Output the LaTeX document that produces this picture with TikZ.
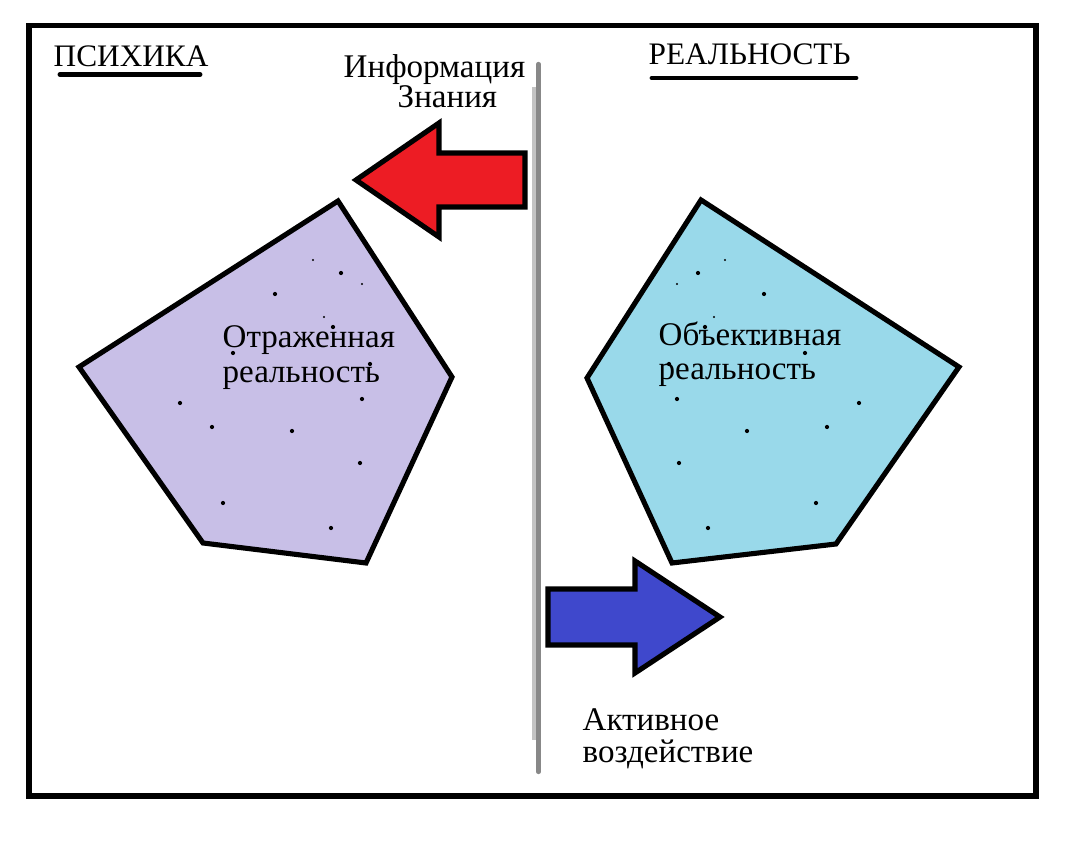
\documentclass[tikz,border=0pt]{standalone}
\usepackage{fontspec}
\setmainfont{Liberation Serif}
\usepackage{tikz}
\definecolor{reflcol}{HTML}{C8BFE7}
\definecolor{objcol}{HTML}{99D9EA}
\definecolor{infocol}{HTML}{ED1C24}
\definecolor{actcol}{HTML}{3F48CC}
\definecolor{sepdark}{HTML}{888888}
\definecolor{seplight}{HTML}{C3C3C3}

\begin{document}
\begin{tikzpicture}[x=0.01cm, y=-0.01cm, every node/.style={font=\fontsize{9.4}{11}\selectfont, inner sep=0pt, anchor=base west}, title/.style={font=\fontsize{8.9}{11}\selectfont}, outline/.style={draw=black, line width=1.45pt, line join=miter}, bar/.style={line width=1.4pt, line cap=round}]
	\useasboundingbox (0,0) rectangle (1075,843);
	\draw[line width=1.45pt] (29,25.5) rectangle (1036,796);
	% separator
	\draw[seplight, line width=1.1pt] (534,87) -- (534,740);
	\draw[sepdark, line width=1.2pt, line cap=round] (538.5,64) -- (538.5,772);
	% titles
	\node[title] (psyche) at (53,67) {ПСИХИКА};
	\draw[bar] (60,74.5) -- (200,74.5);
	\node[title] (reality) at (648,65) {РЕАЛЬНОСТЬ};
	\draw[bar] (652,78) -- (856,78);
	% pentagons
	\draw[outline, fill=reflcol] (338,201) -- (452,377) -- (366,563) -- (203,543) -- (79,367) -- cycle;
	\draw[outline, fill=objcol] (701,200) -- (959,367) -- (836,544) -- (672,563) -- (587,378) -- cycle;
	\foreach \x/\y in {341/273, 275/294, 333/327, 233/353, 370/364, 362/399, 180/403, 212/427, 292/431, 360/463, 223/503, 331/528} {\fill (\x,\y) circle (0.6pt);}
	\foreach \x/\y in {698/273, 764/294, 705/327, 758/343, 805/353, 669/364, 677/399, 859/403, 747/431, 827/427, 679/463, 816/503, 708/528} {\fill (\x,\y) circle (0.6pt);}
	\foreach \x/\y in {313/260, 362/284, 324/317, 280/343, 725/260, 677/284, 714/317} {\fill (\x,\y) circle (0.3pt);}
	\node (reflA) at (222,348) {Отраженная};
	\node (reflB) at (222,383) {реальность};
	\node (objA) at (658,346) {Объективная};
	\node (objB) at (658,380) {реальность};
	% arrows
	\draw[outline, fill=infocol] (525,153) -- (439,153) -- (439,123) -- (356,180) -- (439,237) -- (439,207) -- (525,207) -- cycle;
	\node (info) at (343,78) {Информация};
	\node (know) at (397,108) {Знания};
	\draw[outline, fill=actcol] (548,589) -- (635,589) -- (635,561) -- (720,617) -- (635,673) -- (635,645) -- (548,645) -- cycle;
	\node (actA) at (582,731) {Активное};
	\node (actB) at (582,763) {воздействие};
\end{tikzpicture}
\end{document}
